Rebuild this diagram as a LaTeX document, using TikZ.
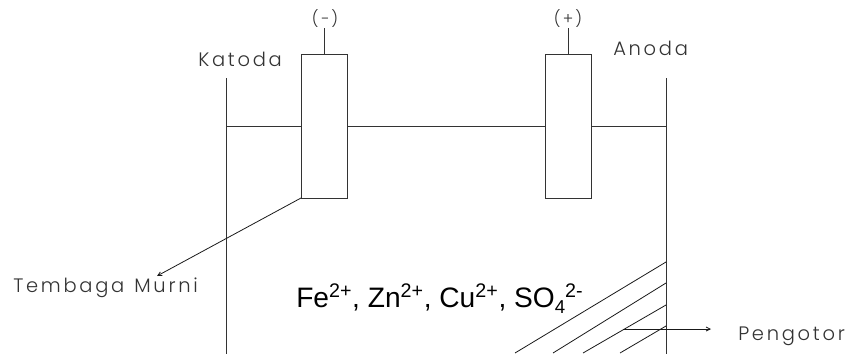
\documentclass[tikz,border=0pt]{standalone}
\usepackage{fontspec}
\setmainfont{Liberation Sans}
\newfontfamily\cadfont[LetterSpace=14]{Poppins Light}
\usetikzlibrary{arrows.meta}
\begin{document}
\begin{tikzpicture}[x=0.75pt,y=-0.75pt,
  wire/.style={line width=0.75pt,draw=black!80,line cap=butt},
  thin wire/.style={line width=0.6pt,draw=black!90},
  electrode/.style={wire,fill=white,rectangle,minimum width=34.5pt,minimum height=108pt,inner sep=0pt,outer sep=0pt},
  cadlabel/.style={font=\cadfont\fontsize{14.6pt}{16pt}\selectfont,text=black!80,inner sep=0pt,anchor=base west},
  cadsmall/.style={font=\cadfont\fontsize{12pt}{14pt}\selectfont,text=black!80,inner sep=0pt,anchor=base},
  pointer/.style={thin wire,-{Straight Barb[length=3pt,width=3pt]}}]
\useasboundingbox (0,0) rectangle (859,354);
\coordinate (wallLtop) at (226,78);
\coordinate (wallLbot) at (226,354);
\coordinate (wallRtop) at (666,78);
\coordinate (wallRbot) at (666,354);
\coordinate (levelL) at (226,126);
\coordinate (levelR) at (666,126);
\draw[wire] (wallLtop) -- (wallLbot);
\draw[wire] (wallRtop) -- (wallRbot);
\draw[wire] (levelL) -- (levelR);
\node[electrode] (cathode) at (324,126) {};
\node[electrode] (anode) at (568,126) {};
\coordinate (minusTop) at (324,28);
\coordinate (plusTop) at (568,28);
\draw[wire] (cathode.north) -- (minusTop);
\draw[wire] (anode.north) -- (plusTop);
\node[cadsmall] (minus) at (325,24) {(−)};
\node[cadsmall] (plus) at (568,24) {(+)};
\node[cadlabel] (katoda) at (198,66) {Katoda};
\node[cadlabel] (anoda) at (613,55) {Anoda};
\node[cadlabel] (tembaga) at (13,292) {Tembaga\hspace{1.5pt} Murni};
\node[cadlabel] (pengotor) at (738,340) {Pengotor};
\coordinate (tembagaTip) at (157,276);
\draw[pointer] (cathode.south west) -- (tembagaTip);
\foreach \n/\ax/\ay/\bx/\by in {a/666/262/515/353,b/666/283/553/353,c/666/305/583/353,d/666/326/620/353}{
  \coordinate (h\n1) at (\ax,\ay);
  \coordinate (h\n2) at (\bx,\by);
  \draw[thin wire] (h\n1) -- (h\n2);
}
\coordinate (pengotorFrom) at (623,329);
\coordinate (pengotorTip) at (711,329);
\draw[pointer] (pengotorFrom) -- (pengotorTip);
\node[inner sep=0pt,anchor=base west,font=\fontsize{21.1pt}{24pt}\selectfont] (ions) at (296,307.5)
  {Fe\textsuperscript{2+}, Zn\textsuperscript{2+}, Cu\textsuperscript{2+}, SO\raisebox{-0.2em}{\fontsize{14pt}{14pt}\selectfont 4}\textsuperscript{2-}};
\end{tikzpicture}
\end{document}
